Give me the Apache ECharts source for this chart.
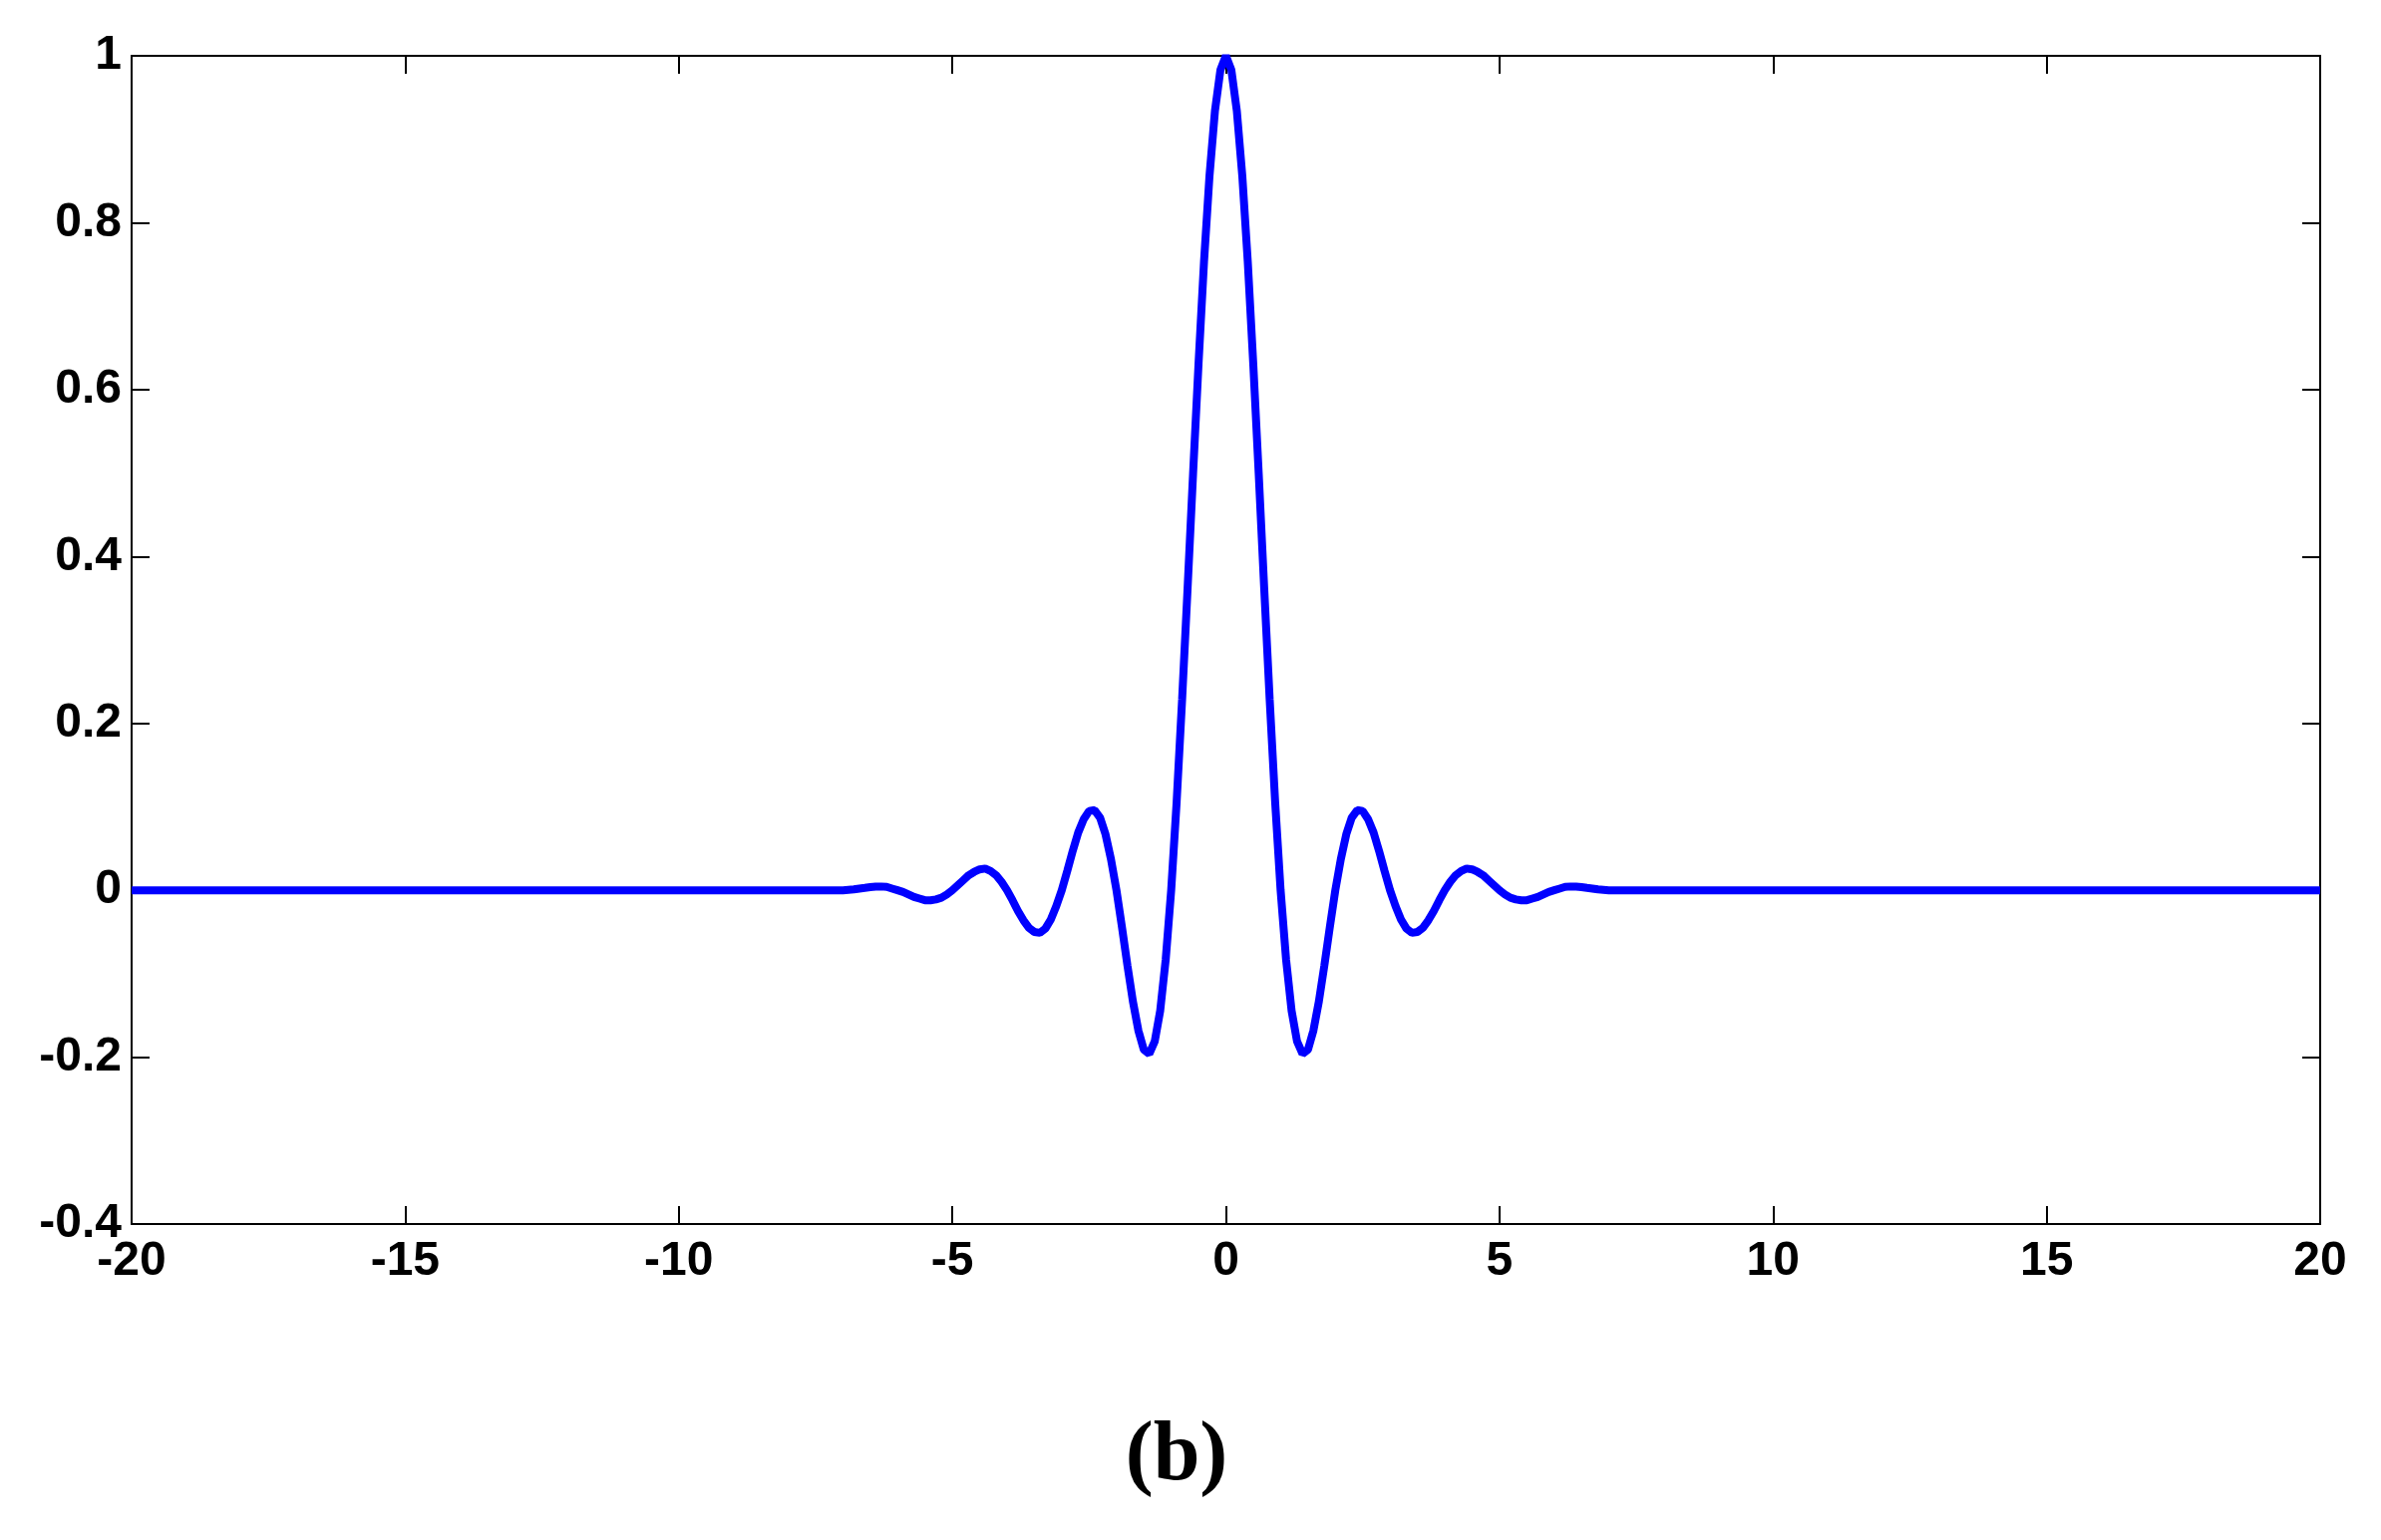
<!DOCTYPE html>
<html>
<head>
<meta charset="utf-8">
<title>(b)</title>
<script src="https://cdn.jsdelivr.net/npm/echarts@6/dist/echarts.min.js"></script>
<style>
  html, body { margin: 0; padding: 0; background: #fff; }
  #chart { width: 2388px; height: 1545px; }
</style>
</head>
<body>
<div id="chart"></div>
<script>
// sample positions along x
const xValues = [
  -20,
  -7.0, -6.9, -6.8, -6.7, -6.6, -6.5, -6.4, -6.3, -6.2, -6.1,
  -6.0, -5.9, -5.8, -5.7, -5.6, -5.5, -5.4, -5.3, -5.2, -5.1,
  -5.0, -4.9, -4.8, -4.7, -4.6, -4.5, -4.4, -4.3, -4.2, -4.1,
  -4.0, -3.9, -3.8, -3.7, -3.6, -3.5, -3.4, -3.3, -3.2, -3.1,
  -3.0, -2.9, -2.8, -2.7, -2.6, -2.5, -2.4, -2.3, -2.2, -2.1,
  -2.0, -1.9, -1.8, -1.7, -1.6, -1.5, -1.4, -1.3, -1.2, -1.1,
  -1.0, -0.9, -0.8, -0.7, -0.6, -0.5, -0.4, -0.3, -0.2, -0.1,
  0,
  0.1, 0.2, 0.3, 0.4, 0.5, 0.6, 0.7, 0.8, 0.9, 1.0,
  1.1, 1.2, 1.3, 1.4, 1.5, 1.6, 1.7, 1.8, 1.9, 2.0,
  2.1, 2.2, 2.3, 2.4, 2.5, 2.6, 2.7, 2.8, 2.9, 3.0,
  3.1, 3.2, 3.3, 3.4, 3.5, 3.6, 3.7, 3.8, 3.9, 4.0,
  4.1, 4.2, 4.3, 4.4, 4.5, 4.6, 4.7, 4.8, 4.9, 5.0,
  5.1, 5.2, 5.3, 5.4, 5.5, 5.6, 5.7, 5.8, 5.9, 6.0,
  6.1, 6.2, 6.3, 6.4, 6.5, 6.6, 6.7, 6.8, 6.9, 7.0,
  20
]

const yValues = [
  0,
  0, 0.0005, 0.001, 0.002, 0.0028, 0.0037, 0.0044, 0.0045, 0.004, 0.002,
  0, -0.002, -0.005, -0.008, -0.010, -0.012, -0.012, -0.011, -0.009, -0.005,
  0, 0.006, 0.012, 0.018, 0.022, 0.025, 0.026, 0.023, 0.018, 0.010,
  0, -0.012, -0.025, -0.036, -0.045, -0.050, -0.051, -0.046, -0.035, -0.019,
  0, 0.023, 0.047, 0.069, 0.085, 0.095, 0.096, 0.087, 0.067, 0.037,
  0, -0.044, -0.090, -0.133, -0.168, -0.191, -0.196, -0.181, -0.144, -0.083,
  0, 0.106, 0.229, 0.362, 0.499, 0.631, 0.753, 0.856, 0.934, 0.983,
  1.0,
  0.983, 0.934, 0.856, 0.753, 0.631, 0.499, 0.362, 0.229, 0.106, 0,
  -0.083, -0.144, -0.181, -0.196, -0.191, -0.168, -0.133, -0.090, -0.044, 0,
  0.037, 0.067, 0.087, 0.096, 0.095, 0.085, 0.069, 0.047, 0.023, 0,
  -0.019, -0.035, -0.046, -0.051, -0.050, -0.045, -0.036, -0.025, -0.012, 0,
  0.010, 0.018, 0.023, 0.026, 0.025, 0.022, 0.018, 0.012, 0.006, 0,
  -0.005, -0.009, -0.011, -0.012, -0.012, -0.010, -0.008, -0.005, -0.002, 0,
  0.002, 0.004, 0.0045, 0.0044, 0.0037, 0.0028, 0.002, 0.001, 0.0005, 0,
  0
]

const xTicks = { min: -20, max: 20, interval: 5 }
const yTicks = { min: -0.4, max: 1, interval: 0.2 }

const chart = echarts.init(document.getElementById('chart'), null, { renderer: 'canvas' })

const axisFont = {
  color: '#000',
  fontFamily: 'Liberation Sans, Arial, sans-serif',
  fontWeight: 'bold',
  fontSize: 48
}

const frameLine = { show: true, onZero: false, lineStyle: { color: '#000', width: 2 } }
const innerTick = { show: true, inside: true, length: 18, lineStyle: { color: '#000', width: 2 } }

const option = {
  backgroundColor: '#fff',
  animation: false,
  grid: { left: 132, right: 61, top: 56, bottom: 317 },
  xAxis: [
    {
      type: 'value',
      position: 'bottom',
      ...xTicks,
      axisLine: frameLine,
      axisTick: innerTick,
      splitLine: { show: false },
      axisLabel: { ...axisFont, margin: 14 }
    },
    {
      type: 'value',
      position: 'top',
      ...xTicks,
      axisLine: frameLine,
      axisTick: innerTick,
      splitLine: { show: false },
      axisLabel: { show: false }
    }
  ],
  yAxis: [
    {
      type: 'value',
      position: 'left',
      ...yTicks,
      axisLine: frameLine,
      axisTick: innerTick,
      splitLine: { show: false },
      axisLabel: { ...axisFont, margin: 10 }
    },
    {
      type: 'value',
      position: 'right',
      ...yTicks,
      axisLine: frameLine,
      axisTick: innerTick,
      splitLine: { show: false },
      axisLabel: { show: false }
    }
  ],
  series: [
    {
      type: 'line',
      xAxisIndex: 0,
      yAxisIndex: 0,
      showSymbol: false,
      smooth: false,
      lineStyle: { color: '#0000ff', width: 8 },
      data: xValues.map((x, i) => [x, yValues[i]])
    }
  ],
  graphic: [
    {
      type: 'text',
      x: 1180,
      y: 1462,
      style: {
        text: '(b)',
        align: 'center',
        verticalAlign: 'middle',
        fontFamily: 'Liberation Serif, Times New Roman, serif',
        fontWeight: 'bold',
        fontSize: 84,
        fill: '#000'
      }
    }
  ]
}

chart.setOption(option)
</script>
</body>
</html>
